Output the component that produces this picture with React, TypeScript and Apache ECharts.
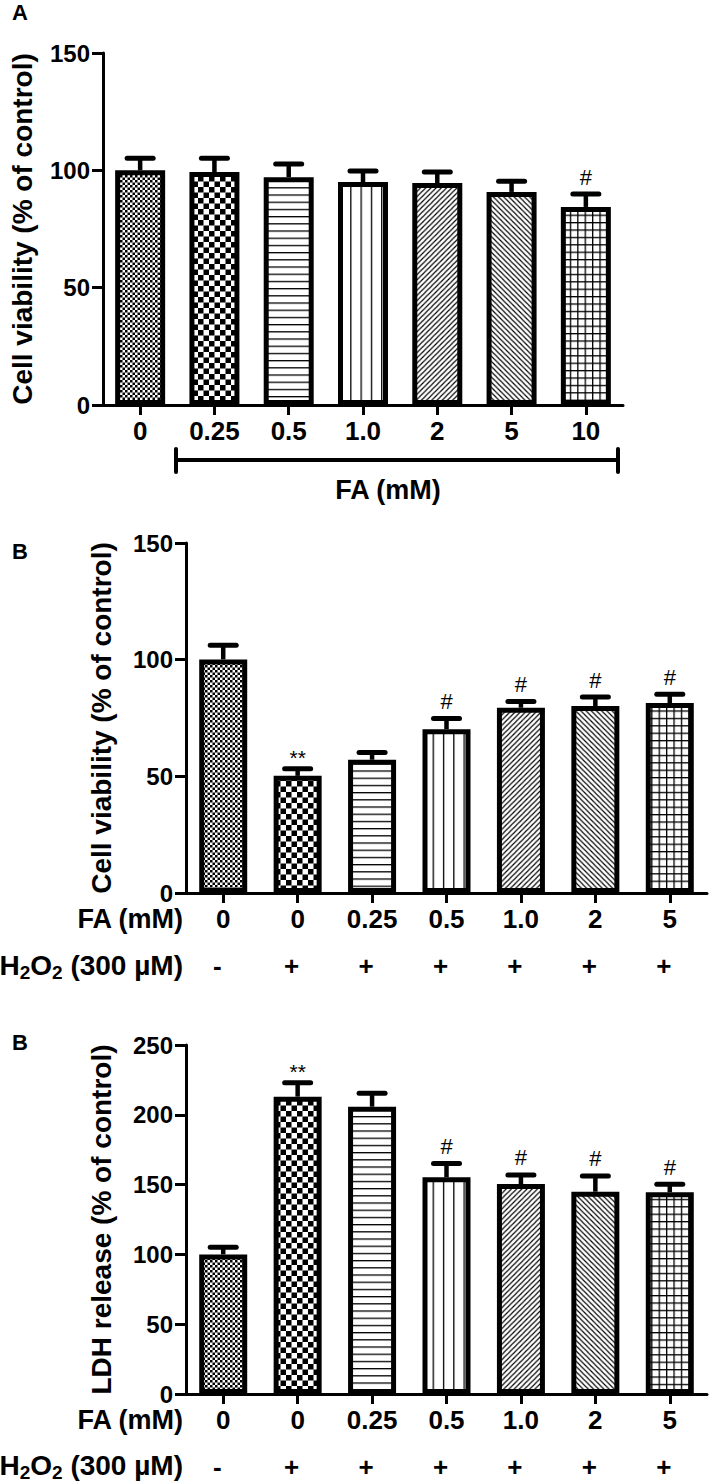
import React, { useEffect, useRef } from "react";
import * as echarts from "echarts";

// Panel A
const concA = ["0", "0.25", "0.5", "1.0", "2", "5", "10"];
const viabilityA = [100, 99.3, 97.1, 95, 94.6, 90.8, 84.4];
const semA = [5.1, 5.9, 5.6, 4.7, 4.7, 4.6, 5.5];
const sigA = ["", "", "", "", "", "", "#"];

// Panel B
const faB = ["0", "0", "0.25", "0.5", "1.0", "2", "5"];
const h2o2B = ["-", "+", "+", "+", "+", "+", "+"];
const viabilityB = [100.1, 50.2, 57.1, 70.2, 79.4, 80.1, 81.4];
const semB = [6.1, 3.1, 3.1, 4.6, 2.7, 3.9, 3.8];
const sigB = ["", "**", "", "#", "#", "#", "#"];

// Panel C
const faC = ["0", "0", "0.25", "0.5", "1.0", "2", "5"];
const h2o2C = ["-", "+", "+", "+", "+", "+", "+"];
const ldhC = [100, 213, 205.8, 155.2, 150.4, 144.9, 144.5];
const semC = [5.1, 10, 9.6, 10, 6.5, 11.3, 5.7];
const sigC = ["", "**", "", "#", "#", "#", "#"];

const FONT = "'Liberation Sans', Arial, Helvetica, sans-serif";

function svgUrl(w: number, h: number, body: string) {
  const s = `<svg xmlns="http://www.w3.org/2000/svg" width="${w}" height="${h}" viewBox="0 0 ${w} ${h}"><rect width="${w}" height="${h}" fill="#fff"/>${body}</svg>`;
  return "data:image/svg+xml;charset=utf-8," + encodeURIComponent(s);
}

function pat(w: number, h: number, body: string) {
  return { image: svgUrl(w, h, body), repeat: "repeat", imageWidth: w, imageHeight: h };
}

const patterns = [
  pat(5, 5, `<rect x="0" y="0" width="2.5" height="2.5" fill="#000"/><rect x="2.5" y="2.5" width="2.5" height="2.5" fill="#000"/>`),
  pat(11, 11, `<rect x="0" y="0" width="5.5" height="5.5" fill="#000"/><rect x="5.5" y="5.5" width="5.5" height="5.5" fill="#000"/>`),
  pat(8, 7.2, `<rect x="0" y="0" width="8" height="1.3" fill="#000"/>`),
  pat(10.3, 8, `<rect x="0" y="0" width="1.3" height="8" fill="#000"/>`),
  pat(5.2, 5.2, `<path d="M-1 6.2 L6.2 -1 M-1 1 L1 -1 M4.2 6.2 L6.2 4.2" stroke="#000" stroke-width="1.2"/>`),
  pat(5.2, 5.2, `<path d="M-1 -1 L6.2 6.2 M-1 4.2 L1 6.2 M4.2 -1 L6.2 1" stroke="#000" stroke-width="1.2"/>`),
  pat(7.4, 7.4, `<rect x="0" y="0" width="1.3" height="7.4" fill="#000"/><rect x="0" y="0" width="7.4" height="1.3" fill="#000"/>`),
];

function barSeries(xi: number, yi: number, values: number[], barWidth: number) {
  return {
    type: "bar",
    xAxisIndex: xi,
    yAxisIndex: yi,
    barWidth,
    z: 3,
    data: values.map((v, i) => ({
      value: v,
      itemStyle: { color: patterns[i], borderColor: "#000", borderWidth: 5 },
    })),
  };
}

function errSeries(xi: number, yi: number, values: number[], sems: number[], sigs: string[]) {
  return {
    type: "custom",
    xAxisIndex: xi,
    yAxisIndex: yi,
    z: 2,
    data: values.map((v, i) => [i, v, v + sems[i]]),
    renderItem: (params: any, api: any) => {
      const i = api.value(0);
      const base = api.coord([i, api.value(1)]);
      const top = api.coord([i, api.value(2)]);
      const children: any[] = [
        { type: "line", shape: { x1: base[0], y1: base[1], x2: top[0], y2: top[1] }, style: { stroke: "#000", lineWidth: 4.5 } },
        { type: "line", shape: { x1: top[0] - 13, y1: top[1], x2: top[0] + 13, y2: top[1] }, style: { stroke: "#000", lineWidth: 5, lineCap: "round" } },
      ];
      const s = sigs[i];
      if (s) {
        children.push({
          type: "text",
          style: {
            text: s,
            x: top[0],
            y: top[1] - (s === "#" ? 6 : 1),
            align: "center",
            verticalAlign: "bottom",
            fill: "#000",
            fontSize: s === "#" ? 22 : 21,
            fontFamily: FONT,
          },
        });
      }
      return { type: "group", children };
    },
  };
}

const axisLineStyle = { color: "#000", width: 3 };

function catAxis(gridIndex: number, data: string[]) {
  return {
    type: "category",
    gridIndex,
    data,
    axisLine: { show: true, lineStyle: axisLineStyle },
    axisTick: { show: true, alignWithLabel: true, length: 10, lineStyle: axisLineStyle },
    axisLabel: { color: "#000", fontSize: 26, fontWeight: "bold", fontFamily: FONT, margin: 13 },
    splitLine: { show: false },
  };
}

function signAxis(gridIndex: number, data: string[]) {
  return {
    type: "category",
    gridIndex,
    data,
    position: "bottom",
    offset: 47,
    axisLine: { show: false },
    axisTick: { show: false },
    axisLabel: { color: "#000", fontSize: 26, fontWeight: "bold", fontFamily: FONT, margin: 13, padding: [0, 12, 0, 0] },
    splitLine: { show: false },
  };
}

function valAxis(gridIndex: number, max: number, name: string, nameGap: number) {
  return {
    type: "value",
    gridIndex,
    min: 0,
    max,
    interval: 50,
    name,
    nameLocation: "middle",
    nameGap,
    nameTextStyle: { color: "#000", fontSize: 28, fontWeight: "bold", fontFamily: FONT },
    axisLine: { show: true, lineStyle: axisLineStyle },
    axisTick: { show: true, length: 11, lineStyle: axisLineStyle },
    axisLabel: { color: "#000", fontSize: 24, fontWeight: "bold", fontFamily: FONT, margin: 13 },
    splitLine: { show: false },
  };
}

function txt(text: string, x: number, y: number, fontSize: number, align = "left") {
  return {
    type: "text",
    x,
    y,
    style: { text, fill: "#000", fontSize, fontWeight: "bold", fontFamily: FONT, align, verticalAlign: "middle" },
  };
}

function h2o2Label(x: number, y: number) {
  return {
    type: "text",
    x,
    y,
    style: {
      text: "{a|H}{s|2}{a|O}{s|2}{a| (300 µM)}",
      align: "right",
      verticalAlign: "middle",
      rich: {
        a: { fontSize: 28, lineHeight: 33, fontWeight: "bold", fontFamily: FONT, fill: "#000" },
        s: { fontSize: 19, lineHeight: 19, fontWeight: "bold", fontFamily: FONT, fill: "#000", verticalAlign: "bottom" },
      },
    },
  };
}

export default function App() {
  const ref = useRef<HTMLDivElement>(null);
  useEffect(() => {
    if (!ref.current) return;
    const chart = echarts.init(ref.current, null, { renderer: "svg" });
    const option: any = {
      animation: false,
      backgroundColor: "#fff",
      grid: [
        { left: 97, top: 53, width: 526, height: 352 },
        { left: 186, top: 543, width: 521, height: 350 },
        { left: 186, top: 1045, width: 521, height: 349 },
      ],
      xAxis: [catAxis(0, concA), catAxis(1, faB), signAxis(1, h2o2B), catAxis(2, faC), signAxis(2, h2o2C)],
      yAxis: [
        valAxis(0, 150, "Cell viability (% of control)", 67),
        valAxis(1, 150, "Cell viability (% of control)", 71),
        valAxis(2, 250, "LDH release (% of control)", 71),
      ],
      series: [
        barSeries(0, 0, viabilityA, 50),
        errSeries(0, 0, viabilityA, semA, sigA),
        barSeries(1, 1, viabilityB, 48),
        errSeries(1, 1, viabilityB, semB, sigB),
        barSeries(3, 2, ldhC, 48),
        errSeries(3, 2, ldhC, semC, sigC),
      ],
      graphic: [
        txt("A", 12, 12, 22),
        txt("B", 12, 551, 22),
        txt("B", 12, 1042, 22),
        { type: "line", shape: { x1: 176, y1: 460, x2: 618, y2: 460 }, style: { stroke: "#000", lineWidth: 4 } },
        { type: "line", shape: { x1: 176, y1: 449, x2: 176, y2: 472 }, style: { stroke: "#000", lineWidth: 4, lineCap: "round" } },
        { type: "line", shape: { x1: 618, y1: 449, x2: 618, y2: 472 }, style: { stroke: "#000", lineWidth: 4, lineCap: "round" } },
        txt("FA (mM)", 388, 490, 27, "center"),
        txt("FA (mM)", 183, 919, 27, "right"),
        h2o2Label(183, 965),
        txt("FA (mM)", 183, 1420, 27, "right"),
        h2o2Label(183, 1465),
      ],
    };
    chart.setOption(option);
    return () => chart.dispose();
  }, []);
  return (
    <div
      ref={ref}
      style={{ position: "absolute", left: 0, top: 0, width: 709, height: 1484, background: "#fff" }}
    />
  );
}
